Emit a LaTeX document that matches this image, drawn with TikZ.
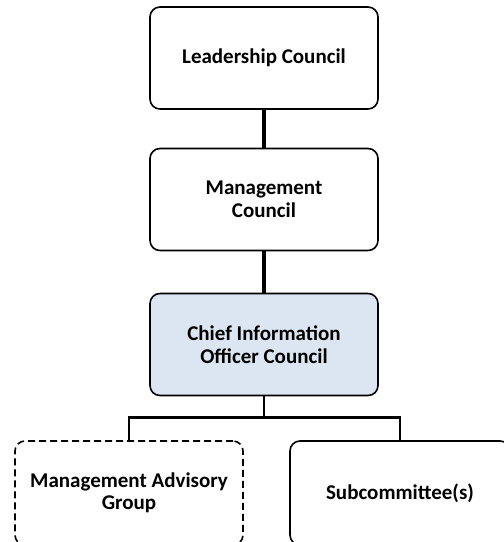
\documentclass[tikz,border=0pt]{standalone}
\usepackage{fontspec}
\setmainfont{Carlito}
\usetikzlibrary{positioning}
\definecolor{cioblue}{HTML}{DCE6F2}

\begin{document}
\begin{tikzpicture}[x=1pt, y=1pt,
  every node/.style={font=\bfseries\fontsize{21}{22.5}\selectfont},
  council/.style={draw, line width=1.6pt, rounded corners=10pt,
                  minimum width=228pt, minimum height=102pt,
                  align=center, inner sep=0pt},
  uplink/.style={line width=3.2pt},
  downlink/.style={line width=2.4pt}
]
  \useasboundingbox (0,0) rectangle (504,-542);

  \node[council]                 (lead) at (264,-58)    {Leadership Council};
  \node[council]                 (mgmt) at (264,-199.5) {Management\\Council};
  \node[council, fill=cioblue]   (cio)  at (264,-344.5) {Chief Information\\Officer Council};
  \node[council, dash pattern=on 7pt off 4pt,
        minimum height=104pt]    (mag)  at (129,-493)   {Management Advisory\\Group};
  \node[council, minimum width=220pt,
        minimum height=104pt]    (sub)  at (400,-493)   {Subcommittee(s)};

  \draw[uplink]   (lead) -- (mgmt);
  \draw[uplink]   (mgmt) -- (cio);
  \draw[downlink] (cio.south) -- ++(0,-21) coordinate (split);
  \draw[downlink] (split) -| (mag.north);
  \draw[downlink] (split) -| (sub.north);
\end{tikzpicture}
\end{document}
